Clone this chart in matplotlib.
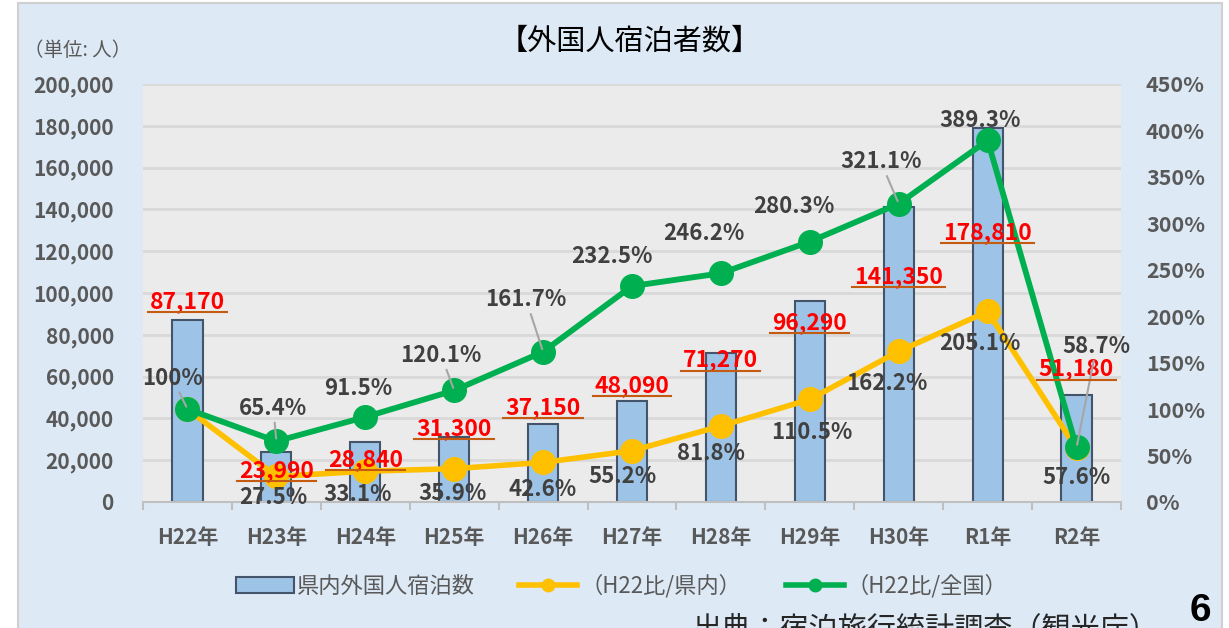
import matplotlib
matplotlib.use("Agg")
import matplotlib.pyplot as plt
from matplotlib.patches import Rectangle
from matplotlib.lines import Line2D
from matplotlib.ticker import FuncFormatter, MultipleLocator

plt.rcParams["font.family"] = ["Noto Sans CJK JP", "DejaVu Sans"]

# データ
years = ["H22年", "H23年", "H24年", "H25年", "H26年", "H27年",
         "H28年", "H29年", "H30年", "R1年", "R2年"]
guests = [87170, 23990, 28840, 31300, 37150, 48090,
          71270, 96290, 141350, 178810, 51180]
ratio_pref = [100, 27.5, 33.1, 35.9, 42.6, 55.2, 81.8, 110.5, 162.2, 205.1, 57.6]
ratio_nation = [100, 65.4, 91.5, 120.1, 161.7, 232.5, 246.2, 280.3, 321.1, 389.3, 58.7]

# ラベル位置のずらし (px)
guest_off = [18, -19, -18, 8, 17, 16, -7, -22, -70, -104, 26]
pref_off = [None, (-3, -21), (-8, -23), (-2, -25), (0, -27), (-9, -26),
            (-10, -27), (2, -33), (-12, -32), (-8, -32), (0, -29)]
nation_off = [(-15, 31), (-3, 33), (-7, 29), (-13, 35), (-17, 52), (-20, 30),
              (-17, 40), (-16, 35), (-18, 42), (-8, 20), (20, 101)]
nation_leader = [True, True, False, True, True, False, False, False, True, False, True]

BAR = "#9dc3e6"
ORANGE = "#ffc000"
GREEN = "#00b050"
TXT = "#595959"
LBL = "#404040"

fig = plt.figure(figsize=(12.29, 6.28), dpi=100)
fig.patch.set_facecolor("white")
fig.patches.append(Rectangle((18 / 1229, -0.01), 1204 / 1229, 1.0 - 3 / 628 + 0.01,
                             transform=fig.transFigure, facecolor="#dde9f5",
                             edgecolor="#d0d0d0", linewidth=1.5, zorder=-5))

ax = fig.add_axes([143 / 1229, 1 - 502 / 628, 978 / 1229, 418 / 628])
ax.set_facecolor("#ebebeb")
x = list(range(len(years)))
ax.bar(x, guests, width=0.34, color=BAR, edgecolor="#44546a", linewidth=1.5, zorder=2)
ax.set_ylim(0, 200000)
ax.set_xlim(-0.5, len(years) - 0.5)
ax.yaxis.set_major_locator(MultipleLocator(20000))
ax.yaxis.set_major_formatter(FuncFormatter(lambda v, p: f"{int(v):,}"))
ax.grid(axis="y", color="#d9d9d9", linewidth=2, zorder=0)
ax.set_axisbelow(True)
for s in ["top", "left", "right"]:
    ax.spines[s].set_visible(False)
ax.spines["bottom"].set_color("#bfbfbf")
ax.spines["bottom"].set_linewidth(1.5)
ax.set_xticks(x)
ax.set_xticklabels(years)
ax.set_xticks([i - 0.5 for i in range(len(years) + 1)], minor=True)
ax.tick_params(axis="x", which="major", length=0, pad=18, labelsize=15,
               labelcolor=TXT)
ax.tick_params(axis="x", which="minor", length=6, color="#bfbfbf", width=1.5)
ax.tick_params(axis="y", length=0, pad=21, labelsize=15, labelcolor=TXT)
for t in ax.get_xticklabels() + ax.get_yticklabels():
    t.set_fontweight("bold")

ax2 = ax.twinx()
ax2.set_ylim(0, 450)
ax2.yaxis.set_major_locator(MultipleLocator(50))
ax2.yaxis.set_major_formatter(FuncFormatter(lambda v, p: f"{int(v)}%"))
ax2.tick_params(axis="y", length=0, pad=18, labelsize=15.5, labelcolor=TXT)
for t in ax2.get_yticklabels():
    t.set_fontweight("bold")
for s in ax2.spines.values():
    s.set_visible(False)

ax2.plot(x, ratio_pref, color=ORANGE, linewidth=4, marker="o", markersize=17, zorder=3)
ax2.plot(x, ratio_nation, color=GREEN, linewidth=4.2, marker="o", markersize=17, zorder=4)

k = 0.72  # px -> pt
red_texts = []
for i, v in enumerate(guests):
    t = ax2.annotate(f"{v:,}", (i, v), xycoords=ax.transData,
                     xytext=(0, guest_off[i] * k),
                     textcoords="offset points", ha="center", va="center",
                     fontsize=16.5, fontweight="bold", color="#ff0000", zorder=10)
    red_texts.append(t)

for i, v in enumerate(ratio_pref):
    if pref_off[i] is None:
        continue
    dx, dy = pref_off[i]
    ax2.annotate(f"{v:g}%", (i, v), xytext=(dx * k, dy * k),
                 textcoords="offset points", ha="center", va="center",
                 fontsize=16, fontweight="bold", color=LBL, zorder=10)

for i, v in enumerate(ratio_nation):
    dx, dy = nation_off[i]
    props = dict(arrowstyle="-", color="#a6a6a6", lw=1.5, shrinkA=0, shrinkB=2) \
        if nation_leader[i] else None
    ax2.annotate(f"{v:g}%", (i, v), xytext=(dx * k, dy * k),
                 textcoords="offset points", ha="center", va="center",
                 fontsize=16, fontweight="bold", color=LBL, zorder=10,
                 arrowprops=props)

fig.text(630 / 1229, 1 - 42 / 628, "【外国人宿泊者数】", ha="center", va="center",
         fontsize=21, color="black")
fig.text(78 / 1229, 1 - 50 / 628, "（単位: 人）", ha="center", va="center",
         fontsize=14, color=TXT)
fig.text(693 / 1229, 1 - 614 / 628, "出典：宿泊旅行統計調査（観光庁）", ha="left",
         va="top", fontsize=21, color="#262626")
fig.text(1200 / 1229, 1 - 611 / 628, "6", ha="center", va="center", fontsize=28,
         fontweight="bold", color="black", family="Liberation Sans")

handles = [Rectangle((0, 0), 1, 1, facecolor=BAR, edgecolor="#44546a", linewidth=1.5),
           Line2D([], [], color=ORANGE, linewidth=4, marker="o", markersize=9),
           Line2D([], [], color=GREEN, linewidth=4, marker="o", markersize=9)]
labels = ["県内外国人宿泊数", "（H22比/県内）", "（H22比/全国）"]
leg = fig.legend(handles, labels, loc="center", bbox_to_anchor=(0.506, 1 - 586 / 628),
                 ncol=3, frameon=False, fontsize=16, handlelength=2.6,
                 handletextpad=0.15, columnspacing=2.0)
for t in leg.get_texts():
    t.set_color(TXT)

# underline the red labels
fig.canvas.draw()
r = fig.canvas.get_renderer()
for t in red_texts:
    bb = t.get_window_extent(r)
    yy = bb.y0 + 1
    fig.add_artist(Line2D([bb.x0 - 2, bb.x1 + 2], [yy, yy], transform=None,
                          color="#c55a11", linewidth=1.5, zorder=11))

fig.savefig("out.png", dpi=100)
